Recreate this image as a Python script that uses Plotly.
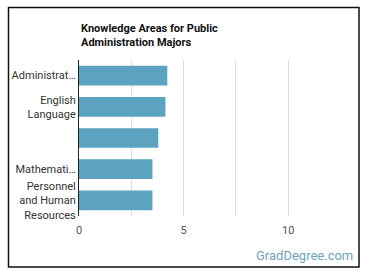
import plotly.graph_objects as go

categories = ["Administrat…", "English<br>Language", " ", "Mathemati…", "Personnel<br>and Human<br>Resources"]
values = [4.22, 4.13, 3.79, 3.51, 3.51]
x_ticks = [0, 5, 10]

L, R, T, B = 79, 351, 60, 216
W, H = 370, 278
pw, ph = R - L, B - T

def px(x):
    return (x - L) / pw

def py(y):
    return (B - y) / ph

fig = go.Figure(go.Bar(
    x=values, y=list(range(len(categories))), orientation="h",
    marker=dict(color="#5ba3c1", line=dict(width=0)),
    width=0.63,
))

fig.update_layout(
    width=W, height=H,
    margin=dict(l=L, r=W - R, t=T, b=H - B),
    paper_bgcolor="white", plot_bgcolor="white",
    showlegend=False,
    font=dict(family="Roboto", size=11, color="#333"),
    xaxis=dict(range=[0, 13], tickvals=[0, 2.5, 5, 7.5, 10], ticktext=["0", "", "5", "", "10"],
               showgrid=True, gridcolor="#dddddd", gridwidth=1, zeroline=False,
               showline=False, ticks="outside", ticklen=4, tickcolor="rgba(0,0,0,0)",
               tickfont=dict(size=11, color="#555")),
    yaxis=dict(tickvals=list(range(len(categories))), ticktext=categories,
               autorange=False, range=[4.5, -0.5],
               showgrid=False, zeroline=False, showline=True, linecolor="#222", linewidth=1,
               ticks="", tickfont=dict(size=11, color="#333")),
    annotations=[
        dict(text="<b>Knowledge Areas for Public<br>Administration Majors</b>",
             xref="paper", yref="paper", x=px(79), y=py(20), xanchor="left", yanchor="top",
             align="left", showarrow=False, font=dict(family="Roboto", size=11, color="#111")),
        dict(text="GradDegree.com", xref="paper", yref="paper", x=px(355), y=py(255),
             xanchor="right", yanchor="middle", showarrow=False,
             font=dict(family="Roboto", size=13, color="#6fa3c3")),
    ],
    shapes=[
        dict(type="rect", xref="paper", yref="paper", x0=px(8.5), x1=px(359), y0=py(267), y1=py(7.5),
             line=dict(color="#111", width=1.5), fillcolor="rgba(0,0,0,0)", layer="above"),
    ],
)

fig.write_html("out.html")
